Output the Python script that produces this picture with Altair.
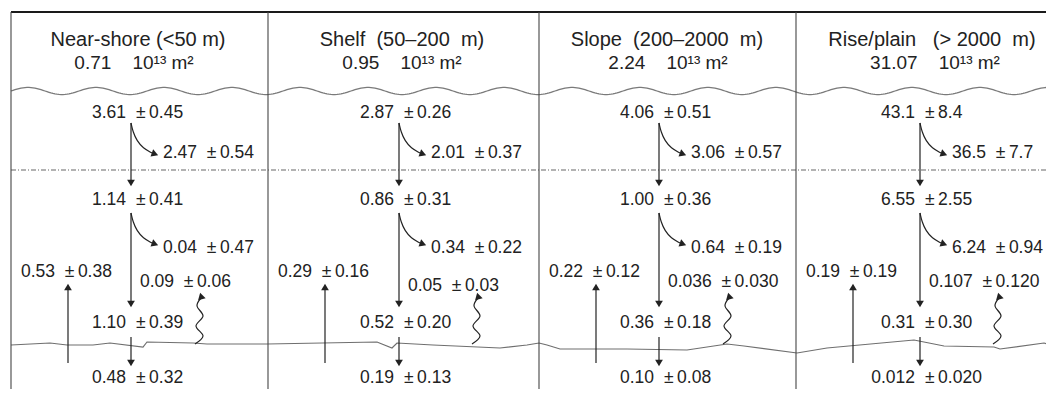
import math
import altair as alt
import pandas as pd

# ---------------- data ----------------
regions = ["Near-shore (<50 m)", "Shelf\u00a0 (50–200\u00a0 m)", "Slope\u00a0 (200–2000\u00a0 m)",
           "Rise/plain\u00a0\u00a0 (> 2000\u00a0 m)"]
area = ["0.71", "0.95", "2.24", "31.07"]
area_unit = "10¹³ m²"

surface_val = ["3.61", "2.87", "4.06", "43.1"]
surface_err = ["0.45", "0.26", "0.51", "8.4"]
upper_remin_val = ["2.47", "2.01", "3.06", "36.5"]
upper_remin_err = ["0.54", "0.37", "0.57", "7.7"]
export_val = ["1.14", "0.86", "1.00", "6.55"]
export_err = ["0.41", "0.31", "0.36", "2.55"]
lower_remin_val = ["0.04", "0.34", "0.64", "6.24"]
lower_remin_err = ["0.47", "0.22", "0.19", "0.94"]
return_val = ["0.53", "0.29", "0.22", "0.19"]
return_err = ["0.38", "0.16", "0.12", "0.19"]
other_val = ["0.09", "0.05", "0.036", "0.107"]
other_err = ["0.06", "0.03", "0.030", "0.120"]
floor_val = ["1.10", "0.52", "0.36", "0.31"]
floor_err = ["0.39", "0.20", "0.18", "0.30"]
burial_val = ["0.48", "0.19", "0.10", "0.012"]
burial_err = ["0.32", "0.13", "0.08", "0.020"]

# irregular sea-floor line (image px)
seafloor_x = [11, 50, 67, 93, 110, 143, 147, 193, 207, 267, 377, 392, 397, 433, 500,
              527, 539, 547, 560, 627, 687, 727, 744, 797, 827, 914, 944, 994, 1000, 1044, 1054]
seafloor_y = [345, 343, 345, 345, 343, 347, 342, 343, 344, 344, 342, 348, 343, 345, 348,
              345, 343, 345, 349, 349, 350, 344, 346, 353, 348, 340, 346, 347, 349, 343, 346]

# ---------------- layout (image pixel coordinates) ----------------
W, H = 1038, 381
X0, Y0 = 8, 8
PANEL_LEFT = [11, 268, 539, 796]
RIGHT = 1054
ARROW_X = [131, 399, 659, 920]
HEAD1_X = [138, 402, 667, 932]
HEAD2_X = [134, 402, 668, 935]
SQUIG_DX = [69, 78, 69, 78]
UP_DX = 57
Y_TOP, Y_BOTTOM = 12, 397
Y_H1, Y_H2 = 40, 63
Y_WAVE = 91
Y_SURF, Y_UREM, Y_DASH, Y_EXP, Y_LREM = 113, 153, 170, 200, 248
Y_RET = 272
Y_OTH = [282, 286, 282, 282]
Y_FLT, Y_BED, Y_BUR = 323, 344, 378

NB = "\u00a0"
TH = "\u2009"
FONT = "Liberation Sans"
INK = "#222222"

xs = alt.Scale(domain=[X0, X0 + W], nice=False, zero=False)
ys = alt.Scale(domain=[Y0, Y0 + H], nice=False, zero=False, reverse=True)
X = alt.X("x:Q", scale=xs, axis=None)
Yc = alt.Y("y:Q", scale=ys, axis=None)


def fmt(v, e):
    return v + NB + NB + "±" + TH + e


left_rows, right_rows, h1_rows, h2_rows = [], [], [], []
rules, heads, curves, squig = [], [], [], []
for i in range(4):
    A = ARROW_X[i]
    L = PANEL_LEFT[i]
    h1_rows.append({"x": HEAD1_X[i], "y": Y_H1, "t": regions[i]})
    h2_rows.append({"x": HEAD2_X[i], "y": Y_H2, "t": area[i] + NB * 4 + area_unit})
    for v, e, y in [(surface_val[i], surface_err[i], Y_SURF), (export_val[i], export_err[i], Y_EXP),
                    (floor_val[i], floor_err[i], Y_FLT), (burial_val[i], burial_err[i], Y_BUR)]:
        right_rows.append({"x": A - 5, "y": y, "t": v})
        left_rows.append({"x": A + 5, "y": y, "t": "±" + TH + e})
    left_rows.append({"x": A + 32, "y": Y_UREM, "t": fmt(upper_remin_val[i], upper_remin_err[i])})
    left_rows.append({"x": A + 32, "y": Y_LREM, "t": fmt(lower_remin_val[i], lower_remin_err[i])})
    left_rows.append({"x": L + 10, "y": Y_RET, "t": fmt(return_val[i], return_err[i])})
    left_rows.append({"x": A + 9, "y": Y_OTH[i], "t": fmt(other_val[i], other_err[i])})

    # straight arrows
    for xx, y1, y2 in [(A, 123, 182), (A, 213, 303), (A, 337, 362), (L + UP_DX, 363, 288)]:
        rules.append({"x": xx, "y": y1, "y2": y2})
    heads += [
        {"x": A, "y": 183, "s": "triangle-down", "a": 0},
        {"x": A, "y": 304, "s": "triangle-down", "a": 0},
        {"x": A, "y": 363, "s": "triangle-down", "a": 0},
        {"x": L + UP_DX, "y": 287, "s": "triangle-up", "a": 0},
    ]
    # curved arrows
    for k, y0 in enumerate([123, 213]):
        for o, (dx, dy) in enumerate([(0, 0), (2, 9), (6, 18), (12, 25), (21, 30)]):
            curves.append({"x": A + dx, "y": y0 + dy, "g": f"{i}-{k}", "o": o})
        heads.append({"x": A + 24, "y": y0 + 31, "s": "triangle-right", "a": 20})
    # squiggle
    sx = A + SQUIG_DX[i]
    for o, (dx, dy) in enumerate([(-5, 0), (3, -8), (-4, -18), (3, -28), (-3, -38), (1, -46)]):
        squig.append({"x": sx + dx, "y": Y_BED + dy, "g": str(i), "o": o})
    heads.append({"x": sx + 1, "y": Y_BED - 48, "s": "triangle-up", "a": 345})

# sea-surface wave (decorative)
wave = [{"x": xx, "y": Y_WAVE - 3.6 * math.sin(2 * math.pi * (xx - 11) / 68.0)} for xx in range(11, RIGHT + 1, 2)]
floor = [{"x": a, "y": b, "o": k} for k, (a, b) in enumerate(zip(seafloor_x, seafloor_y))]

frame_h = pd.DataFrame([{"x": PANEL_LEFT[0], "x2": RIGHT, "y": Y_TOP}])
dash_h = pd.DataFrame([{"x": PANEL_LEFT[0], "x2": RIGHT, "y": Y_DASH}])
dividers = pd.DataFrame([{"x": L, "y": Y_TOP, "y2": Y_BOTTOM} for L in PANEL_LEFT])

layers = [
    alt.Chart(pd.DataFrame(wave)).mark_line(color="#7a7a7a", strokeWidth=1.3).encode(x=X, y=Yc),
    alt.Chart(pd.DataFrame(floor)).mark_line(color="#6f6f6f", strokeWidth=1.2).encode(
        x=X, y=Yc, order="o:Q"),
    alt.Chart(dash_h).mark_rule(color="#666666", strokeWidth=1.1, strokeDash=[5, 2, 1, 2]).encode(
        x=X, x2="x2:Q", y=Yc),
    alt.Chart(frame_h).mark_rule(color="#1a1a1a", strokeWidth=2.2).encode(x=X, x2="x2:Q", y=Yc),
    alt.Chart(dividers).mark_rule(color="#444444", strokeWidth=1.1).encode(x=X, y=Yc, y2="y2:Q"),
    alt.Chart(pd.DataFrame(rules)).mark_rule(color=INK, strokeWidth=1.2).encode(x=X, y=Yc, y2="y2:Q"),
    alt.Chart(pd.DataFrame(curves)).mark_line(color=INK, strokeWidth=1.2, interpolate="basis").encode(
        x=X, y=Yc, detail="g:N", order="o:Q"),
    alt.Chart(pd.DataFrame(squig)).mark_line(color=INK, strokeWidth=1.2, interpolate="cardinal").encode(
        x=X, y=Yc, detail="g:N", order="o:Q"),
    alt.Chart(pd.DataFrame(heads)).mark_point(filled=True, color=INK, opacity=1, size=60, strokeWidth=0).encode(
        x=X, y=Yc, shape=alt.Shape("s:N", scale=None), angle=alt.Angle("a:Q", scale=None)),
    alt.Chart(pd.DataFrame(h1_rows)).mark_text(font=FONT, fontSize=20, align="center",
                                               baseline="middle", color=INK).encode(x=X, y=Yc, text="t:N"),
    alt.Chart(pd.DataFrame(h2_rows)).mark_text(font=FONT, fontSize=19, align="center",
                                               baseline="middle", color=INK).encode(x=X, y=Yc, text="t:N"),
    alt.Chart(pd.DataFrame(left_rows)).mark_text(font=FONT, fontSize=17.5, align="left",
                                                 baseline="middle", color=INK).encode(x=X, y=Yc, text="t:N"),
    alt.Chart(pd.DataFrame(right_rows)).mark_text(font=FONT, fontSize=17.5, align="right",
                                                  baseline="middle", color=INK).encode(x=X, y=Yc, text="t:N"),
]

chart = alt.layer(*layers).properties(
    width=W, height=H, padding=0, autosize=alt.AutoSizeParams(type="none"), background="white"
).configure_view(stroke=None)

chart.save("out.html", embed_options={"renderer": "svg", "actions": False})
